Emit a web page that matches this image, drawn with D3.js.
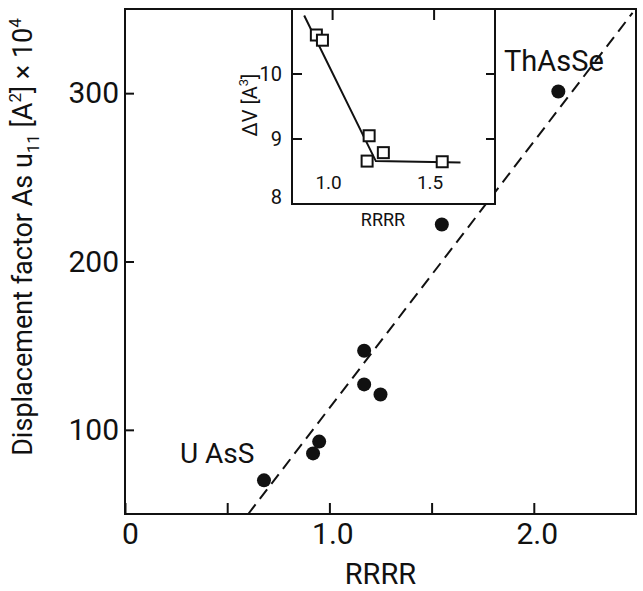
<!DOCTYPE html>
<html><head><meta charset="utf-8">
<script src="https://cdn.jsdelivr.net/npm/d3@7"></script>
<style>body{margin:0;background:#fff}svg{display:block}</style>
</head><body>
<svg id="c" width="643" height="591"></svg>
<script>
// ---- main plot data ----
const rrrr = [0.68, 0.92, 0.95, 1.17, 1.17, 1.25, 1.55, 2.12];
const u11 = [70, 86, 93, 147, 127, 121, 222, 301];
const fitX = [0.603, 2.483];
const fitY = [50, 347.7];
const xTickValues = [0, 0.5, 1.0, 1.5, 2.0];
const xTickLabels = ["0", "", "1.0", "", "2.0"];
const yTickValues = [100, 200, 300];
const compoundNames = ["U AsS", "ThAsSe"];
// ---- inset data ----
const insetX = [0.92, 0.95, 1.18, 1.17, 1.25, 1.54];
const insetDV = [10.6, 10.52, 9.05, 8.66, 8.79, 8.65];
const insetFitX = [0.86, 1.213, 1.63];
const insetFitY = [10.9, 8.66, 8.64];
const insetXTicks = [1.0, 1.5];
const insetXTickLabels = ["1.0", "1.5"];
const insetYTicks = [8, 9, 10];

const svg = d3.select("#c");
const ink = "#111";
const FONT = "Roboto, 'Liberation Sans', sans-serif";

// main scales
const L = 125, R = 636, T = 9, B = 514;
const x = d3.scaleLinear().domain([0, 2.5]).range([L, R]);
const y = d3.scaleLinear().domain([50, 350]).range([B, T]);

// fit line (dashed)
svg.append("path")
  .datum(fitX.map((v, i) => [v, fitY[i]]))
  .attr("d", d3.line().x(d => x(d[0])).y(d => y(d[1])))
  .attr("fill", "none").attr("stroke", ink).attr("stroke-width", 2)
  .attr("stroke-dasharray", "12,7");

// points
svg.append("g").selectAll("circle").data(rrrr).join("circle")
  .attr("cx", d => x(d)).attr("cy", (d, i) => y(u11[i]))
  .attr("r", 7).attr("fill", ink);

// axes
const xAxis = d3.axisBottom(x).tickValues(xTickValues)
  .tickFormat((d, i) => xTickLabels[i]).tickSizeInner(-11).tickSizeOuter(0).tickPadding(9);
const gx = svg.append("g").attr("transform", `translate(0,${B})`).call(xAxis);
gx.select(".domain").remove();
gx.selectAll("line").attr("stroke", ink).attr("stroke-width", 2);
gx.selectAll("text").attr("font-family", FONT).attr("font-size", 30).attr("fill", ink)
  .attr("dx", (d) => d === 0 ? 5 : 3);

const yAxis = d3.axisLeft(y).tickValues(yTickValues)
  .tickSizeInner(-9).tickSizeOuter(0).tickPadding(6);
const gy = svg.append("g").attr("transform", `translate(${L},0)`).call(yAxis);
gy.select(".domain").remove();
gy.selectAll("line").attr("stroke", ink).attr("stroke-width", 2);
gy.selectAll("text").attr("font-family", FONT).attr("font-size", 30).attr("fill", ink);

// frame
svg.append("rect").attr("x", L).attr("y", T).attr("width", R - L).attr("height", B - T)
  .attr("fill", "none").attr("stroke", ink).attr("stroke-width", 2);

// compound labels
svg.append("text").attr("x", 180).attr("y", 463).text(compoundNames[0])
  .attr("font-family", FONT).attr("font-size", 28).attr("fill", ink);
svg.append("text").attr("x", 504).attr("y", 71).text(compoundNames[1])
  .attr("font-family", FONT).attr("font-size", 29).attr("fill", ink);

// axis titles
svg.append("text").attr("x", (L + R) / 2).attr("y", 584).attr("text-anchor", "middle")
  .attr("font-family", FONT).attr("font-size", 29).attr("fill", ink).text("RRRR");

const yt = svg.append("text").attr("transform", "translate(32,237) rotate(-90)")
  .attr("text-anchor", "middle").attr("font-family", FONT).attr("font-size", 27).attr("fill", ink);
yt.append("tspan").text("Displacement factor As u");
yt.append("tspan").attr("font-size", 17).attr("dy", 7).text("11");
yt.append("tspan").attr("dy", -7).text(" [A");
yt.append("tspan").attr("font-size", 17).attr("dy", -11).text("2");
yt.append("tspan").attr("dy", 11).text("] \u00d7 10");
yt.append("tspan").attr("font-size", 17).attr("dy", -11).text("4");

// ---- inset ----
const iL = 292, iR = 495, iT = 9, iB = 204;
const ix = d3.scaleLinear().domain([0.8, 1.8]).range([iL, iR]);
const iy = d3.scaleLinear().domain([8, 11]).range([iB, iT]);
const gi = svg.append("g");
gi.append("rect").attr("x", iL).attr("y", iT).attr("width", iR - iL).attr("height", iB - iT)
  .attr("fill", "#fff").attr("stroke", ink).attr("stroke-width", 2);

// inset ticks
gi.append("g").selectAll("line").data(insetYTicks.filter(d => d > 8)).join("line")
  .attr("x1", iL).attr("x2", iL + 10).attr("y1", d => iy(d)).attr("y2", d => iy(d))
  .attr("stroke", ink).attr("stroke-width", 2);
gi.append("g").selectAll("line").data(insetYTicks.filter(d => d > 8)).join("line")
  .attr("x1", iR).attr("x2", iR - 9).attr("y1", d => iy(d)).attr("y2", d => iy(d))
  .attr("stroke", ink).attr("stroke-width", 2);
gi.append("g").selectAll("line").data(insetXTicks).join("line")
  .attr("x1", d => ix(d)).attr("x2", d => ix(d)).attr("y1", iT).attr("y2", iT + 11)
  .attr("stroke", ink).attr("stroke-width", 2);

// inset tick labels
gi.append("g").selectAll("text").data(insetYTicks).join("text")
  .attr("x", iL - 10).attr("y", d => iy(d) + (d === 8 ? -7 : 0)).attr("dy", "0.36em")
  .attr("text-anchor", "end").attr("font-family", FONT).attr("font-size", 20).attr("fill", ink)
  .text(d => d);
gi.append("g").selectAll("text").data(insetXTicks).join("text")
  .attr("x", d => ix(d) - 4).attr("y", 189).attr("text-anchor", "middle")
  .attr("font-family", FONT).attr("font-size", 19).attr("fill", ink)
  .text((d, i) => insetXTickLabels[i]);

// inset line
gi.append("path")
  .datum(insetFitX.map((v, i) => [v, insetFitY[i]]))
  .attr("d", d3.line().x(d => ix(d[0])).y(d => iy(d[1])))
  .attr("fill", "none").attr("stroke", ink).attr("stroke-width", 2);

// inset squares
const s = 11;
gi.append("g").selectAll("rect").data(insetX).join("rect")
  .attr("x", d => ix(d) - s / 2).attr("y", (d, i) => iy(insetDV[i]) - s / 2)
  .attr("width", s).attr("height", s)
  .attr("fill", "#fff").attr("stroke", ink).attr("stroke-width", 2);

// inset titles
gi.append("text").attr("x", 383).attr("y", 226).attr("text-anchor", "middle")
  .attr("font-family", FONT).attr("font-size", 18).attr("fill", ink).text("RRRR");
const it = gi.append("text").attr("transform", "translate(257,105) rotate(-90)")
  .attr("text-anchor", "middle").attr("font-family", FONT).attr("font-size", 20).attr("fill", ink);
it.append("tspan").text("\u0394V [A");
it.append("tspan").attr("font-size", 13).attr("dy", -9).text("3");
it.append("tspan").attr("dy", 9).text("]");
</script>
</body></html>
